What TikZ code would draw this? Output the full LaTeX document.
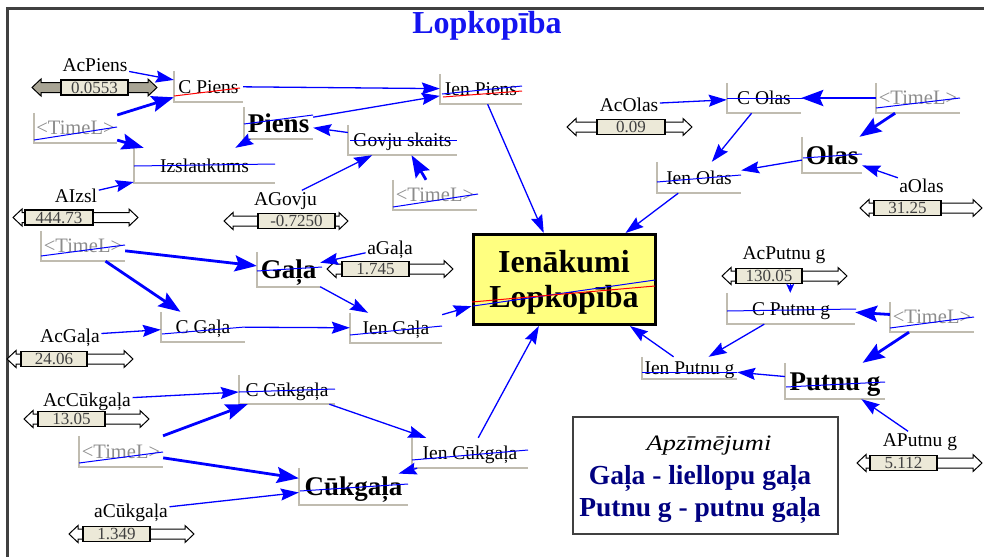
\documentclass[tikz,border=0pt]{standalone}
\usepackage{fontspec}
\setmainfont{Liberation Serif}
\usetikzlibrary{arrows.meta}

\definecolor{conblue}{RGB}{0,0,255}
\definecolor{titleblue}{RGB}{20,20,240}
\definecolor{framegray}{RGB}{64,64,64}
\definecolor{bracketgray}{RGB}{192,188,176}
\definecolor{sliderfill}{RGB}{236,233,216}
\definecolor{sliderdark}{RGB}{168,164,148}
\definecolor{timegray}{RGB}{140,140,140}
\definecolor{mainyellow}{RGB}{255,255,128}
\definecolor{legendnavy}{RGB}{0,0,128}
\definecolor{strikered}{RGB}{255,0,0}

\newcommand\setfs[1]{\fontsize{#1}{#1}\selectfont}

\tikzset{
  var/.style={inner sep=0pt, text height=13pt, text depth=0pt, font=\setfs{19.5}},
  stock/.style={inner sep=0pt, text height=18pt, text depth=0pt, font=\bfseries\setfs{27}},
  timevar/.style={inner sep=0pt, text height=13.5pt, text depth=0pt, text=timegray, font=\setfs{20.5}},
  lbl/.style={inner sep=1.5pt, text height=13pt, text depth=0pt, font=\setfs{19.5}},
  gbr/.style={draw=bracketgray, line width=1.5pt},
  con/.style={draw=conblue, line width=1.3pt, -{Stealth[length=18pt,width=12pt,inset=2.5pt]}},
  thickcon/.style={draw=conblue, line width=2.8pt, -{Stealth[length=22pt,width=16pt,inset=3.5pt]}},
  strike/.style={draw=conblue, line width=1pt},
  redstrike/.style={draw=strikered, line width=1pt},
  sbox/.style={draw=black, line width=1.3pt, fill=sliderfill, minimum height=15pt, inner sep=0pt,
    font=\setfs{17}, text=black!75, text height=11.5pt, text depth=0pt},
  sarrow/.style={draw=black, line width=1pt},
}

% variable with its grey corner bracket: [style]{name}{xl}{yt}{xr}{yb}{text}
\newcommand\mkvar[7][var]{%
  \node[#1, minimum width={#5-#3}, minimum height={#6-#4}] (#2) at ({(#3+#5)/2},{(#4+#6)/2}) {#7};
  \draw[gbr] (#2.north west) -- (#2.south west) -- (#2.south east);
}

% slider: [arrow fill]{name}{box left}{box right}{y}{left tip}{right tip}{value}
\newcommand\mkslider[8][white]{%
  \draw[sarrow, fill=#1] ({#3},{#5-5}) -- ({#6+9},{#5-5}) -- ({#6+9},{#5-8.5}) -- ({#6},{#5})
    -- ({#6+9},{#5+8.5}) -- ({#6+9},{#5+5}) -- ({#3},{#5+5}) -- cycle;
  \draw[sarrow, fill=#1] ({#4},{#5-5}) -- ({#7-9},{#5-5}) -- ({#7-9},{#5-8.5}) -- ({#7},{#5})
    -- ({#7-9},{#5+8.5}) -- ({#7-9},{#5+5}) -- ({#4},{#5+5}) -- cycle;
  \node[sbox, minimum width={#4-#3}] (#2) at ({(#3+#4)/2},{#5}) {#8};
}

\newcommand\timel{\textless TimeL\textgreater}

\begin{document}
\begin{tikzpicture}[x=1pt, y=-1pt]
\useasboundingbox (0,0) rectangle (984,557);

% frame
\draw[framegray, line width=2.5pt] (984,8.5) -- (7.5,8.5) -- (7.5,557);

% title
\node[inner sep=0pt, text height=21.5pt, text depth=0pt, font=\bfseries\setfs{32}, text=titleblue] (title) at (487,23) {Lopkopība};

% central result
\node[draw=black, line width=3pt, fill=mainyellow, minimum width=182pt, minimum height=90pt, inner sep=0pt] (ien) at (564,279.5) {};
\node[anchor=base, inner sep=0pt, font=\bfseries\setfs{32}] (ien1) at (564,272) {Ienākumi};
\node[anchor=base, inner sep=0pt, font=\bfseries\setfs{32}] (ien2) at (564,307) {Lopkopība};

% milk
\mkvar{cpiens}{174}{71}{243}{102}{C Piens}
\mkvar[stock]{piens}{244}{107}{313}{139}{Piens}
\mkvar{izsl}{134}{148}{275}{183}{Izslaukums}
\mkvar[timevar]{time1}{34}{113}{117}{143}{\timel}
\mkvar{govju}{348}{125}{457}{155}{Govju skaits}
\mkvar[timevar]{time2}{393}{180}{477}{210}{\timel}
\mkvar{ienpiens}{440}{74}{522}{104}{Ien Piens}

% eggs
\mkvar{colas}{727}{83}{801}{113}{C Olas}
\mkvar[timevar]{time3}{876}{83}{960}{113}{\timel}
\mkvar[stock]{olas}{802}{137}{862}{173}{Olas}
\mkvar{ienolas}{657}{162}{741}{193}{Ien Olas}

% beef
\mkvar[timevar]{time4}{41}{231}{125}{261}{\timel}
\mkvar[stock]{gala}{257}{252}{320}{287}{Gaļa}
\mkvar{cgala}{161}{312}{245}{342}{C Gaļa}
\mkvar{iengala}{350}{313}{442}{343}{Ien Gaļa}

% pork
\mkvar{ccuk}{239}{375}{335}{404}{C Cūkgaļa}
\mkvar[timevar]{time5}{79}{436}{163}{467}{\timel}
\mkvar[stock]{cuk}{299}{468}{408}{505}{Cūkgaļa}
\mkvar{iencuk}{412}{438}{528}{468}{Ien Cūkgaļa}

% poultry
\mkvar{cput}{727}{293}{855}{324}{C Putnu g}
\mkvar[timevar]{time6}{890}{302}{974}{332}{\timel}
\mkvar[stock]{put}{785}{363}{885}{399}{Putnu g}
\mkvar{ienput}{642}{357}{737}{379}{Ien Putnu g}

% slider labels
\node[lbl] (acpiens) at (95,65) {AcPiens};
\node[lbl] (aizsl) at (76,195.5) {AIzsl};
\node[lbl] (agovju) at (285.5,198.5) {AGovju};
\node[lbl] (acolas) at (629,104.5) {AcOlas};
\node[lbl] (aolas) at (921.5,186) {aOlas};
\node[lbl] (agala) at (390,247.5) {aGaļa};
\node[lbl] (acgala) at (70,335.5) {AcGaļa};
\node[lbl] (accuk) at (87,400) {AcCūkgaļa};
\node[lbl] (acuk) at (131,511) {aCūkgaļa};
\node[lbl] (acput) at (784,253) {AcPutnu g};
\node[lbl] (aput) at (920,439.5) {APutnu g};

% sliders
\mkslider[sliderdark]{acpiensS}{61}{128}{87.5}{32}{157}{0.0553}
\mkslider{aizslS}{25}{93}{217.5}{13}{138}{444.73}
\mkslider{agovjuS}{258}{335}{221}{224}{348}{-0.7250}
\mkslider{acolasS}{597}{665}{127}{567}{692}{0.09}
\mkslider{aolasS}{874}{941}{208}{860}{982}{31.25}
\mkslider{agalaS}{342}{409}{269}{327}{453}{1.745}
\mkslider{acgalaS}{21}{87}{359}{7}{133}{24.06}
\mkslider{accukS}{38}{105}{419}{24}{149}{13.05}
\mkslider{acukS}{83}{150}{534}{69}{194}{1.349}
\mkslider{acputS}{736}{802}{276}{722}{847}{130.05}
\mkslider{aputS}{870}{937}{463}{857}{982}{5.112}

% legend
\node[draw=framegray, line width=2pt, minimum width=265pt, minimum height=117pt, inner sep=0pt] (legend) at (705.5,475.5) {};
\node[anchor=base, inner sep=0pt, font=\itshape\setfs{22}] (leg1) at (709,450) {\scalebox{1.2}[1]{Apzīmējumi}};
\node[anchor=base, inner sep=0pt, font=\bfseries\setfs{27.5}, text=legendnavy] (leg2) at (700,484) {Gaļa - liellopu gaļa};
\node[anchor=base, inner sep=0pt, font=\bfseries\setfs{27.5}, text=legendnavy] (leg3) at (700,516) {Putnu g - putnu gaļa};

% connectors: milk
\draw[con] (acpiens) -- (cpiens);
\draw[thickcon] (time1) -- (cpiens);
\draw[thickcon] (time1) -- (izsl);
\draw[con] (aizsl) -- (izsl);
\draw[con] (piens) -- (izsl);
\draw[con] (cpiens) -- (ienpiens);
\draw[con] (piens) -- (ienpiens);
\draw[con] (govju) -- (piens);
\draw[con] (agovju) -- (govju);
\draw[thickcon] (time2) -- (govju);
\draw[con] (ienpiens) -- (ien);

% connectors: eggs
\draw[con] (acolas) -- (colas);
\draw[thickcon] (time3) -- (colas);
\draw[thickcon] (time3) -- (olas);
\draw[con] (aolas) -- (olas);
\draw[con] (colas) -- (ienolas);
\draw[con] (olas) -- (ienolas);
\draw[con] (ienolas) -- (ien);

% connectors: beef
\draw[thickcon] (time4) -- (gala);
\draw[thickcon] (time4) -- (cgala);
\draw[con] (acgala) -- (cgala);
\draw[con] (agala) -- (gala);
\draw[con] (gala) -- (iengala);
\draw[con] (cgala) -- (iengala);
\draw[con] (iengala) -- (ien);

% connectors: pork
\draw[con] (accuk) -- (ccuk);
\draw[thickcon] (time5) -- (ccuk);
\draw[thickcon] (time5) -- (cuk);
\draw[con] (acuk) -- (cuk);
\draw[con] (ccuk) -- (iencuk);
\draw[con, shorten >=-10pt] (iencuk) -- (cuk);
\draw[con] (iencuk) -- (ien);

% connectors: poultry
\draw[draw=conblue, line width=1.3pt, -{Stealth[length=9pt,width=8pt,inset=2pt]}] (acputS.-21.5) -- (acputS.-21.5 |- cput.north);
\draw[thickcon] (time6) -- (cput);
\draw[thickcon] (time6) -- (put);
\draw[con] (aput) -- (put);
\draw[con] (cput) -- (ienput);
\draw[con] (put) -- (ienput);
\draw[con] (ienput) -- (ien);

% name overlay strokes
\draw[redstrike] (174,96) -- (240,88);
\draw[redstrike] (443,97) -- (522,91);
\draw[strike] (442,94) -- (522,86);
\draw[strike] (244,124) -- (313,115);
\draw[strike] (134,166) -- (275,164);
\draw[strike] (34,140) -- (117,127);
\draw[strike] (350,140) -- (457,140);
\draw[strike] (393,207) -- (478,194);
\draw[strike] (727,98) -- (803,98);
\draw[strike] (876,108) -- (960,98);
\draw[strike] (803,158) -- (862,154);
\draw[strike] (657,182) -- (741,175);
\draw[strike] (41,256) -- (125,245);
\draw[strike] (257,271) -- (322,267);
\draw[strike] (162,334) -- (245,327);
\draw[strike] (350,335) -- (442,326);
\draw[strike] (473,306) -- (655,280);
\draw[redstrike] (472,302) -- (655,286);
\draw[strike] (239,392) -- (335,389);
\draw[strike] (79,463) -- (163,452);
\draw[strike] (300,491) -- (408,484);
\draw[strike] (412,460) -- (528,450);
\draw[strike] (727,311) -- (856,309);
\draw[strike] (890,328) -- (974,317);
\draw[strike] (786,387) -- (885,382);
\draw[strike] (642,372) -- (737,372);
\end{tikzpicture}
\end{document}
